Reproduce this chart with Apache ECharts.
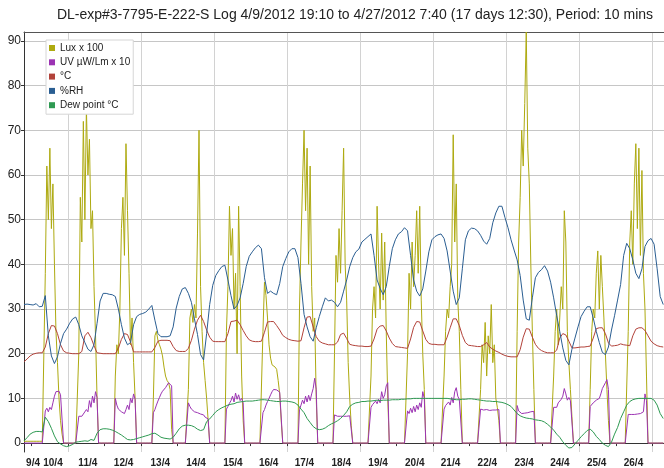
<!DOCTYPE html>
<html>
<head>
<meta charset="utf-8">
<script src="https://cdn.jsdelivr.net/npm/echarts@6/dist/echarts.min.js"></script>
<style>
  html, body { margin: 0; padding: 0; background: #fff; }
  #chart { width: 664px; height: 468px; }
</style>
</head>
<body>
<div id="chart"></div>
<script>
// Time is counted in hours after 9 Apr 2012 00:00.
const START_HOUR = 19 + 10 / 60;          // first reading, 9 Apr 19:10
const END_HOUR = 18 * 24 + 7 + 40 / 60;   // last reading, 27 Apr 07:40
const FAST_STEP = 1;                      // hours between lux / UV values
const SLOW_STEP = 2;                      // hours between temperature / RH / dew point values

// Lux x 100, hourly
const luxX100 = [
  0.4,0.4,0.4,0.4,0.4,0.4,0.4,0.4,0.4,0.4,0.4,0.4,0.4,0.4,
  38,62,50,66,48,58,40,25,18,10,5,2,
  0,0,0,0,0,0,0,0,0,0,
  20,55,45,72,50,75,60,68,48,52,35,24,10,
  0,0,0,0,0,0,0,0,0,0,0,
  15,22,20,30,48,55,42,67,52,38,22,28,18,10,
  0,0,0,0,0,0,0,0,0,0,0,
  10,24,25,23,22,21,19.5,17,15,14,13.5,12,3,
  0,0,0,0,0,0,0,0,0,0,
  12,28,30,27,31,28,47,70,35,25,18,14,10,5,
  0,0,0,0,0,0,0,0,0,0,0,
  25,35,53,42,48,30,38,20,53,35,15,5,
  0,0,0,0,0,0,0,0,0,0,0,0,
  25,36,33,28,22,19,17.5,17.2,17,16.5,14,11,5,
  0,0,0,0,0,0,0,0,0,0,0,
  30,45,58,70,52,66,40,62,35,25,28,10,
  0,0,0,0,0,0,0,0,0,0,0,
  20,42,36,48,38,52,66,40,32,18,10,4,
  0,0,0,0,0,0,0,0,0,0,0,0,
  15,30,35,28,53,40,30,47,32,45,25,10,
  0,0,0,0,0,0,0,0,0,0,0,0,
  20,38,30,45,35,42,52,38,53,32,20,12,
  0,0,0,0,0,0,0,0,0,0,0,0,
  15,25,30,28,35,40,69,45,58,32,25,12,
  0,0,0,0,0,0,0,0,0,0,0,0,
  12,22,18,27,15,24,20,31,18,22,10,8,5,
  0,0,0,0,0,0,0,0,0,0,0,
  25,45,55,70,62,76,92,66,58,40,25,12,
  0,0,0,0,0,0,0,0,0,0,0,0,
  15,25,30,22,28,35,30,52,45,25,18,12,6,
  0,0,0,0,0,0,0,0,0,0,0,
  12,25,30,28,38,43,30,42,35,28,20,12,5,
  0,0,0,0,0,0,0,0,0,0,0,0,
  25,45,52,40,58,67,48,66,42,61,38,30,15,
  0,0,0,0,0,0,0,0,0,0,0
];

// UV µW/Lm x 10, hourly
const uvX10 = [
  0,0,0,0,0,0,0,0,0,0,0,0,0,0,
  7.2,7.8,7.0,8.0,7.5,9.0,10.5,11.5,11.2,11.6,10.8,10.4,
  0,0,0,0,0,0,0,0,0,0,
  6.0,6.2,6.0,6.5,6.8,7.5,7.0,9.5,8.0,10.5,9.0,11.5,10.2,
  0,0,0,0,0,0,0,0,0,0,0,
  10.0,8.5,7.6,7.2,7.0,6.8,6.6,7.5,8.5,7.5,10.0,9.0,11.0,9.8,
  0,0,0,0,0,0,0,0,0,0,0,
  6.8,7.5,8.5,9.4,10.2,11.0,11.6,12.0,12.4,12.8,13.5,13.8,12.8,
  0,0,0,0,0,0,0,0,0,0,
  9.0,8.2,7.6,7.2,7.0,6.6,6.8,6.4,6.5,6.2,6.3,5.8,5.6,5.4,
  0,0,0,0,0,0,0,0,0,0,0,
  7.6,8.2,8.9,9.5,10.5,9.2,11.2,9.8,10.8,9.5,10.0,9.0,
  0,0,0,0,0,0,0,0,0,0,0,0,
  6.8,7.5,8.5,9.3,10.0,10.8,11.5,12.0,12.2,11.9,11.5,11.4,11.0,
  0,0,0,0,0,0,0,0,0,0,0,
  7.5,8.5,9.6,8.8,10.5,9.2,10.7,9.5,11.0,12.2,14.5,12.0,
  0,0,0,0,0,0,0,0,0,0,0,
  6.3,6.2,6.0,6.1,6.0,5.9,6.0,6.1,6.0,6.0,6.1,6.0,
  0,0,0,0,0,0,0,0,0,0,0,0,
  8.0,8.6,8.2,9.4,8.8,9.8,9.0,11.5,10.0,10.8,12.8,13.5,
  0,0,0,0,0,0,0,0,0,0,0,0,
  7.2,6.6,7.8,6.8,8.2,7.0,8.5,7.5,9.0,8.0,11.5,10.0,
  0,0,0,0,0,0,0,0,0,0,0,0,
  7.6,8.4,8.0,9.2,8.5,10.2,9.0,11.5,12.4,10.5,9.8,9.4,
  0,0,0,0,0,0,0,0,0,0,0,0,
  7.6,7.5,7.4,7.4,7.5,7.4,7.3,7.4,7.4,7.3,7.4,7.4,7.5,
  0,0,0,0,0,0,0,0,0,0,0,
  8.4,7.2,6.8,6.6,6.6,6.7,6.6,6.8,6.8,7.0,7.0,7.1,
  0,0,0,0,0,0,0,0,0,0,0,0,
  8.0,8.4,8.0,9.0,8.6,9.8,10.5,12.2,11.0,9.6,10.2,9.5,9.2,
  0,0,0,0,0,0,0,0,0,0,0,
  8.2,8.6,9.0,9.4,9.6,9.3,10.0,11.0,12.2,11.8,13.5,14.2,12.0,
  0,0,0,0,0,0,0,0,0,0,0,0,
  6.4,6.5,6.4,6.5,6.4,6.4,6.5,6.5,6.6,6.7,7.0,11.0,9.5,
  0,0,0,0,0,0,0,0,0,0,0
];

// Temperature °C, every 2 h
const tempC = [
  18.2,18.8,19.5,19.9,20.1,20.2,20.2,21.5,24.5,26.3,
  26.2,24.5,22,20.6,20.2,20.1,20,20,20,20.5,
  24,24.8,23.6,21.8,20.2,20.1,20,20,20,20,
  20,21.2,23.2,24.5,24.3,22.6,20.4,20.4,20.4,20.4,
  20.4,20.4,20.4,21.4,22.8,23,23,23,22.9,21.6,
  20.7,20.5,20.5,20.5,21.2,23,25.5,27.5,28.6,27.2,
  25.3,23.7,22.8,22.7,22.7,22.7,22.7,24.5,27.2,27.3,
  27.5,26.5,25.2,24,23.1,22.8,22.7,22.7,22.8,24.8,
  27.1,27.2,27.2,26.3,25.3,24.1,23.6,23.2,23,22.9,
  22.8,22.9,25.8,28.2,28.3,26,23.8,22.8,22.4,22.2,
  22,22,22,22.6,24.3,24.6,23.4,22.1,21.9,21.8,
  21.7,21.7,21.6,21.6,21.7,23.3,25.5,26.2,26.3,25.1,
  23.5,22.3,21.6,21.5,21.4,21.3,21.2,23.3,25.9,27.2,
  27.1,25.1,23.2,22.3,22.1,22.1,22,22,22,23.7,
  25.8,27.8,27.8,26.3,24.1,22.5,21.9,21.8,21.7,21.6,
  21.6,22,22.5,21.5,21,20.6,20.3,19.9,19.6,19.4,
  19.3,19.3,19.3,20.9,23.7,25.6,25.5,23.7,22.1,21.2,
  20.7,20.4,20.2,20.2,20.2,20.8,23.5,24.5,24.2,22.8,
  21.3,21.3,21.4,21.5,21.5,21.6,21.7,23.5,25.6,25.8,
  25.8,24.5,22.4,21.7,21.8,21.9,22.2,22,21.9,21.8,
  24,25.5,25.8,25.8,25.2,24,22.8,22.2,21.8,21.6,21.5
];

// Relative humidity %, every 2 h
const rhPct = [
  31,31.1,31,30.9,31.2,30.5,30.6,33,24,19.5,
  17.8,19.3,22.3,24.5,25.5,26.8,27.8,28.2,26.5,24,
  22.5,21,20.5,22,26.8,31.8,33.5,33.5,33.3,33.2,
  32.8,30,26.5,23.5,22,22.5,26.5,28.3,28.8,29,
  29.3,30,30.8,27.5,24.5,23.8,23.8,23.8,24,26,
  30.2,32.8,34.5,34.8,33.5,31.5,27.8,24.3,19.8,18.6,
  24.5,31,35.3,37.5,38.6,39.5,39.8,36.5,33,30,
  30.8,32.5,35.7,39.5,41.8,42.8,43.7,44.3,43.5,37,
  33.5,34,33.5,33.2,35.7,39.5,41.3,42.8,43.5,43.5,
  41.5,35.7,28.8,26,23.8,22.8,25.8,28.3,30.5,32.5,
  31.8,32,31.5,30.5,31.5,34,36.5,39.5,41.5,42.8,
  43.4,45,45.6,46.2,46.8,42,36.5,34.6,33.2,35,
  39.5,43.5,45.5,46.8,47.3,48.2,47.5,42,36.5,34,
  32.9,34.5,38.5,42.8,45.5,46.2,46.6,46.8,45.8,43,
  38.5,34,31,32.5,39,45.5,47.5,48.1,48,47.5,
  46.5,45.2,44.5,45.8,49.3,51.5,53,53,50.5,48.2,
  45.5,43.2,41,37.5,32,27.8,27.5,32.5,37,38.2,
  38.8,39.7,38.5,36,32.5,28.5,25,21.3,18.5,17.5,
  21,23.5,26,28.3,29.5,30.5,30.5,28,25,22.5,
  20.3,19.8,21.5,25.3,28.5,32,35.5,42,44.7,43.5,
  41,38,36.8,39,44,45.3,45.8,44.5,39,32.8,31
];

// Dew point °C, every 2 h
const dewC = [
  0.5,1.2,2,2.4,2.6,2.6,2.5,5.8,4.8,3.3,
  1.6,0.3,-0.2,-0.6,-0.8,-0.6,-0.3,0.2,0.3,0.4,
  0.5,0.4,0.8,0.6,2.2,3,3.2,3.2,3.1,2.9,
  2.6,2.2,1.8,1.3,0.8,0.7,0.8,1,1.2,1.4,
  1.6,1.8,2.1,2.2,1.8,1.3,1.1,1,0.9,1.3,
  2.2,3.2,3.8,4,4,3.9,3.6,3.1,2.8,3,
  4.8,5.4,6.2,7,7.5,7.9,8.2,8.5,8.7,8.8,
  9.1,9.2,9.3,9.4,9.4,9.4,9.5,9.6,9.7,9.7,
  9.6,9.5,9.4,9.3,9.3,9.4,9.4,9.3,9.2,9,
  8.5,7.6,6.8,5.5,4.6,3.7,3.2,3,3.1,3.4,
  3.9,4.3,4.6,5,5.5,6.2,7,8.2,8.7,9,
  9.1,9.3,9.3,9.4,9.4,9.5,9.6,9.5,9.6,9.6,
  9.6,9.7,9.7,9.7,9.8,9.8,9.9,9.9,10,10,
  10,10,10,10,10,10,10,10,10,10,
  9.9,9.8,9.7,9.7,9.8,9.8,9.9,9.9,9.8,9.7,
  9.6,9.5,9.4,9.4,9.3,9.3,9.2,9.1,8.9,8.6,
  8.2,7.4,6.6,6.1,5.8,5.6,5.5,5.4,5.2,5.1,
  5,4.7,4.2,3.6,2.9,2,1.3,0.3,-0.5,-1.1,
  -1,-0.2,0.6,1.4,2.1,2.8,3.1,2.5,1.5,0.8,
  0,-0.5,-0.8,0.2,2,3.5,5.5,7,8.5,9.3,
  9.7,9.9,10,10,10,10,10,9.6,8.5,6.6,5.5
];

// Axis labels
const dayLabels = ['9/4','10/4','11/4','12/4','13/4','14/4','15/4','16/4','17/4',
  '18/4','19/4','20/4','21/4','22/4','23/4','24/4','25/4','26/4'];
const dayLabelHours = [25.1, 38.2, 61.1, 84.6, 108.7, 132.2, 156.4, 179.9, 203.4,
  227.6, 251.8, 275.9, 299.4, 323.6, 347.8, 371.3, 395.4, 419.6];
const midnightHours = [24, 48, 72, 96, 120, 144, 168, 192, 216, 240, 264, 288, 312,
  336, 360, 384, 408, 432];
const gridHours = [48, 96, 144, 192, 240, 288, 336, 384, 432];
const yTicks = [0, 10, 20, 30, 40, 50, 60, 70, 80, 90];

const seriesNames = ['Lux x 100', 'UV µW/Lm x 10', '°C', '%RH', 'Dew point °C'];
const seriesColors = ['#aeaa10', '#9c33b3', '#b2423a', '#2a5e92', '#2e9a52'];

function toPoints(values, step) {
  return values.map((v, i) => [START_HOUR + i * step, v]);
}

const FONT = '"Liberation Sans", Arial, sans-serif';

const chart = echarts.init(document.getElementById('chart'), null, { renderer: 'canvas' });

const sources = [
  [luxX100, FAST_STEP],
  [uvX10, FAST_STEP],
  [tempC, SLOW_STEP],
  [rhPct, SLOW_STEP],
  [dewC, SLOW_STEP]
];

chart.setOption({
  animation: false,
  backgroundColor: '#fff',
  textStyle: { fontFamily: FONT },
  title: {
    text: 'DL-exp#3-7795-E-222-S Log 4/9/2012 19:10 to 4/27/2012 7:40 (17 days 12:30), Period: 10 mins',
    left: 355,
    top: 8,
    padding: 0,
    textAlign: 'center',
    textStyle: { fontSize: 14, fontWeight: 'normal', color: '#222', fontFamily: FONT }
  },
  legend: {
    data: seriesNames,
    orient: 'vertical',
    left: 46,
    top: 40,
    padding: [2, 3, 3, 3],
    itemGap: 2.3,
    itemWidth: 6,
    itemHeight: 6,
    icon: 'rect',
    backgroundColor: '#fff',
    borderColor: '#d6d6d6',
    borderWidth: 1,
    textStyle: { fontSize: 10, color: '#222', lineHeight: 12, fontFamily: FONT }
  },
  grid: { left: 24, top: 32, width: 643.9, height: 420, containLabel: false },
  xAxis: [
    {
      type: 'value',
      min: START_HOUR,
      max: END_HOUR,
      position: 'bottom',
      axisLine: { show: true, lineStyle: { color: '#333', width: 1 } },
      axisTick: { show: true, customValues: midnightHours, length: 3, lineStyle: { color: '#333' } },
      axisLabel: {
        customValues: dayLabelHours,
        formatter: (val) => {
          const k = dayLabelHours.findIndex(h => Math.abs(h - val) < 0.01);
          return k >= 0 ? dayLabels[k] : '';
        },
        fontSize: 10,
        fontWeight: 'bold',
        color: '#222',
        margin: 6,
        fontFamily: FONT
      },
      splitLine: { show: false }
    },
    {
      type: 'value',
      min: START_HOUR,
      max: END_HOUR,
      position: 'top',
      axisLine: { show: true, lineStyle: { color: '#555', width: 1 } },
      axisTick: { show: false, customValues: gridHours },
      axisLabel: { show: false },
      splitLine: { show: true, lineStyle: { color: '#d2d2d2', width: 1 } }
    }
  ],
  yAxis: {
    type: 'value',
    min: -2,
    max: 92,
    axisLine: { show: true, lineStyle: { color: '#333', width: 1 } },
    axisTick: { show: true, customValues: yTicks, length: 3, lineStyle: { color: '#333' } },
    axisLabel: { customValues: yTicks, fontSize: 12, color: '#222', margin: 3, fontFamily: FONT },
    splitLine: { show: true, lineStyle: { color: '#c6c6c6', width: 1 } }
  },
  series: sources.map(([values, step], k) => ({
    name: seriesNames[k],
    type: 'line',
    xAxisIndex: 0,
    data: toPoints(values, step),
    showSymbol: false,
    symbol: 'none',
    color: seriesColors[k],
    lineStyle: { color: seriesColors[k], width: 1 },
    emphasis: { disabled: true },
    clip: false
  }))
});
</script>
</body>
</html>
